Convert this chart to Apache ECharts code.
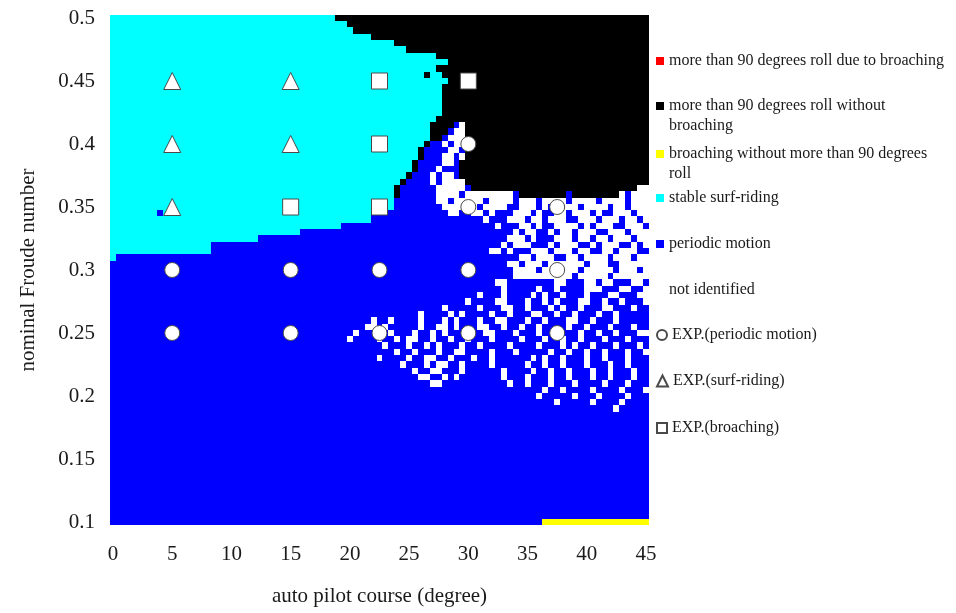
<!DOCTYPE html>
<html>
<head>
<meta charset="utf-8">
<script src="https://cdn.jsdelivr.net/npm/echarts@6/dist/echarts.min.js"></script>
<style>
html,body{margin:0;padding:0;background:#fff;}
#chart{width:956px;height:613px;}
</style>
</head>
<body>
<div id="chart"></div>
<script>
// ---------------- DATA ----------------
// Class codes: b = periodic motion, c = stable surf-riding, k = >90 deg roll without broaching,
// y = broaching without >90 deg roll, w = not identified
const classNames = {
  r: 'more than 90 degrees roll due to broaching',
  k: 'more than 90 degrees roll without broaching',
  y: 'broaching without more than 90 degrees roll',
  c: 'stable surf-riding',
  b: 'periodic motion',
  w: 'not identified'
};
const classColors = { r: '#FF0000', k: '#000000', y: '#FFFF00', c: '#00FFFF', b: '#0000FF', w: '#FFFFFF' };

// Froude number of each map row (top to bottom)
const froudeRows = [0.5,0.495,0.49,0.485,0.48,0.475,0.47,0.465,0.46,0.455,0.45,0.445,0.44,0.435,0.43,0.425,0.42,0.415,0.41,0.405,
  0.4,0.395,0.39,0.385,0.38,0.375,0.37,0.365,0.36,0.355,0.35,0.345,0.34,0.335,0.33,0.325,0.32,0.315,0.31,0.305,
  0.3,0.295,0.29,0.285,0.28,0.275,0.27,0.265,0.26,0.255,0.25,0.245,0.24,0.235,0.23,0.225,0.22,0.215,0.21,0.205,
  0.2,0.195,0.19,0.185,0.18,0.175,0.17,0.165,0.16,0.155,0.15,0.145,0.14,0.135,0.13,0.125,0.12,0.115,0.11,0.105,0.1];

// Run-length encoded map rows (course 0..45 deg in 0.5 deg cells, 91 cells per row), same order as froudeRows
const mapRows = [
  "c38k53","c40k51","c41k50","c44k47","c48k43","c50k41","c55k36","c57k34","c55k36","c53k1c2k35",
  "c57k34","c56k35","c56k35","c56k35","c56k35","c56k35","c55k36","c54k4b1w1k31","c54k3b1w2k31","c54k2b1w3k31",
  "c53k1b2w1b1w2k31","c52k1b4w2b1k31","c52k1b3w2b1w1k31","c51k1b4w2b1k32","c51k1b3w1b3k32","c50k1b3w1b1w2b1k32",
  "c49k1b4w1b1w4k31","c48k1b6w5b1k28w2","c48k1b6w4b1w8b1k8b1k8w1b1w3","c48b7w2b1w5b1w4b1w3b1w4b1w4b1w4b1w3",
  "c48b8w6b1w4b2w3b1w1b1w4b1w4b1w2b1w3",
  "c8b1c35b13w2b2w2b1w1b3w3b1w1b2w2b1w3b1w1b2w3b1w2",
  "c44b19w1b3w3b1w2b1w3b2w3b1w3b1w2b1w1",
  "c39b26w1b3w2b1w1b2w4b1w1b1w3b2w3b1",
  "c32b36w1b1w2b2w1b1w2b1w3b2w3b1w3",
  "c25b42w3b1w1b3w3b1w2b1w2b1w3b1w2",
  "c17b49w1b1w3b3w1b1w3b2w1b1w3b2w1b1w1",
  "c17b47w2b1w1b3w3b1w3b1w2b2w2b1w3b2",
  "c1b68w2b1w3b2w2b1w4b1w3b1w2",
  "b67w2b1w3b1w6b1w3b2w5",
  "b68w4b1w6b1w5b1w3b1w1",
  "b68w10b1w5b1w6",
  "b65w2b8w2b3w2b1w2b3w2b1",
  "b66w1b5w1b2w1b4w3b3w2b2w1",
  "b62w1b3w1b4w1b1w1b2w1b3w1b3w2b3w2",
  "b60w1b4w2b3w1b2w1b1w1b3w2b2w1b2w1b3w1",
  "b56w1b5w1b3w2b2w1b3w1b1w1b2w1b3w2b3w1b2",
  "b52w1b4w1b1w1b4w1b2w1b3w2b2w1b2w1b3w1b2w1b5",
  "b44w1b2w1b4w1b3w1b1w1b3w1b2w2b3w1b2w1b3w2b2w1b3w1b5",
  "b43w2b1w1b5w1b2w2b1w1b3w2b2w1b2w1b2w1b4w1b2w1b3w1b3w1b2",
  "b41w1b3w1b1w1b3w1b2w1b1w1b3w1b2w2b3w1b3w1b2w1b3w1b2w1b2w1b3",
  "b40w1b4w1b2w1b1w2b2w1b2w1b2w1b3w1b4w1b3w1b2w1b2w1b3w1b3w1b3",
  "b46w1b3w1b2w1b1w1b3w1b2w1b4w1b4w1b3w1b1w1b2w1b3w1b3w1b1",
  "b48w1b2w1b3w1b2w2b4w1b3w1b5w1b2w1b2w1b2w1b3w1b2",
  "b45w1b4w1b2w2b2w1b3w1b2w1b6w1b1w1b2w1b3w1b2w1b3w1b3",
  "b49w1b3w1b1w2b2w1b4w1b5w1b2w1b2w1b3w1b3w1b2w1b3",
  "b51w1b2w2b3w1b6w1b4w1b2w1b2w1b3w1b2w1b3w1b2",
  "b52w2b2w1b1w1b7w1b3w1b3w1b2w1b3w1b2w1b3w1b2",
  "b54w2b11w1b2w1b3w1b3w1b4w1b3w1b3",
  "b73w1b2w1b4w1b4w1b3w1",
  "b72w1b5w1b3w1b4w1b3",
  "b75w1b5w1b4w1b4",
  "b85w1b5",
  "b91","b91","b91","b91","b91","b91","b91","b91","b91","b91","b91","b91","b91","b91","b91","b91","b91",
  "b73y18"
];
const cellWidthDeg = 0.5;      // course width of one map cell
const cellHeightFn = 0.005;    // Froude height of one map cell

// Experimental results
const expPeriodic = [[5,0.3],[15,0.3],[22.5,0.3],[30,0.3],[37.5,0.3],[5,0.25],[15,0.25],[22.5,0.25],[30,0.25],[37.5,0.25],[30,0.35],[37.5,0.35],[30,0.4]];
const expSurf = [[5,0.45],[15,0.45],[5,0.4],[15,0.4],[5,0.35]];
const expBroach = [[22.5,0.45],[30,0.45],[22.5,0.4],[15,0.35],[22.5,0.35]];

const xTicks = { min: 0, max: 45, interval: 5 };
const yTicks = { min: 0.1, max: 0.5, interval: 0.05 };

// ---------------- BUILD ----------------
const cellData = { r: [], k: [], y: [], c: [], b: [], w: [] };
mapRows.forEach((str, i) => {
  const fn = froudeRows[i];
  const re = /([a-z])(\d+)/g;
  let m, col = 0;
  while ((m = re.exec(str))) {
    const n = +m[2];
    cellData[m[1]].push([col * cellWidthDeg, (col + n - 1) * cellWidthDeg, fn]);
    col += n;
  }
  if (col !== 91) console.warn('row', i, 'has', col, 'cells');
});

function renderCell(params, api) {
  const x0 = api.value(0), x1 = api.value(1), f = api.value(2);
  const p0 = api.coord([x0 - cellWidthDeg / 2, f + cellHeightFn / 2]);
  const p1 = api.coord([x1 + cellWidthDeg / 2, f - cellHeightFn / 2]);
  const xa = Math.round(p0[0]), ya = Math.round(p0[1]);
  const xb = Math.round(p1[0]), yb = Math.round(p1[1]);
  return {
    type: 'rect',
    shape: { x: xa, y: ya, width: xb - xa, height: yb - ya },
    style: { fill: api.visual('color'), stroke: null }
  };
}

const order = ['r', 'k', 'y', 'c', 'b', 'w'];
const series = order.map(code => ({
  name: classNames[code],
  type: 'custom',
  renderItem: renderCell,
  encode: { x: [0, 1], y: 2 },
  clip: false,
  silent: true,
  itemStyle: { color: classColors[code], opacity: 1 },
  data: cellData[code],
  z: 1
}));

const markerStyle = { color: '#FFFFFF', borderColor: '#4a4a4a', borderWidth: 1, opacity: 1 };
series.push(
  { name: 'EXP.(periodic motion)', type: 'scatter', symbol: 'circle', symbolSize: 15, itemStyle: markerStyle, data: expPeriodic, z: 5, silent: true },
  { name: 'EXP.(surf-riding)', type: 'scatter', symbol: 'triangle', symbolSize: 17, itemStyle: markerStyle, data: expSurf, z: 5, silent: true },
  { name: 'EXP.(broaching)', type: 'scatter', symbol: 'rect', symbolSize: 16, itemStyle: markerStyle, data: expBroach, z: 5, silent: true }
);

// legend text; two-line entries get a blank leading line so the icon sits on the first line
const wrapNames = {
  'more than 90 degrees roll without broaching': ' \nmore than 90 degrees roll without\nbroaching',
  'broaching without more than 90 degrees roll': ' \nbroaching without more than 90 degrees\nroll'
};
const legendItems = [
  { name: classNames.r, y: 61, lines: 1, icon: 'rect', size: 8 },
  { name: classNames.k, y: 106, lines: 3, icon: 'rect', size: 8 },
  { name: classNames.y, y: 154, lines: 3, icon: 'rect', size: 8 },
  { name: classNames.c, y: 198, lines: 1, icon: 'rect', size: 8 },
  { name: classNames.b, y: 244, lines: 1, icon: 'rect', size: 8 },
  { name: classNames.w, y: 290, lines: 1, icon: 'rect', size: 8 },
  { name: 'EXP.(periodic motion)', y: 335, lines: 1, icon: 'circle', size: 10 },
  { name: 'EXP.(surf-riding)', y: 381, lines: 1, icon: 'triangle', size: 11 },
  { name: 'EXP.(broaching)', y: 428, lines: 1, icon: 'rect', size: 10 }
];
const legends = legendItems.map(it => ({
  data: [{ name: it.name, icon: it.icon }],
  left: 656,
  top: it.y - it.lines * 10,
  padding: 0,
  itemWidth: it.size,
  itemHeight: it.size,
  itemGap: 0,
  selectedMode: false,
  formatter: n => wrapNames[n] || n,
  textStyle: { fontFamily: 'Liberation Serif', fontSize: 16, lineHeight: 20, color: '#1a1a1a' }
}));

const option = {
  animation: false,
  backgroundColor: '#ffffff',
  textStyle: { fontFamily: 'Liberation Serif' },
  grid: { left: 113, right: 310, top: 18, bottom: 91, containLabel: false },
  legend: legends,
  xAxis: {
    type: 'value', min: xTicks.min, max: xTicks.max, interval: xTicks.interval,
    axisLine: { show: false }, axisTick: { show: false }, splitLine: { show: false },
    axisLabel: { fontFamily: 'Liberation Serif', fontSize: 21, color: '#1a1a1a', margin: 22 },
    name: 'auto pilot course (degree)', nameLocation: 'middle', nameGap: 64,
    nameTextStyle: { fontFamily: 'Liberation Serif', fontSize: 21, color: '#1a1a1a' }
  },
  yAxis: {
    type: 'value', min: yTicks.min, max: yTicks.max, interval: yTicks.interval,
    axisLine: { show: false }, axisTick: { show: false }, splitLine: { show: false },
    axisLabel: { fontFamily: 'Liberation Serif', fontSize: 21, color: '#1a1a1a', margin: 18,
      formatter: v => String(+v.toFixed(3)) },
    name: 'nominal Froude number', nameLocation: 'middle', nameGap: 74,
    nameTextStyle: { fontFamily: 'Liberation Serif', fontSize: 21, color: '#1a1a1a' }
  },
  series: series
};

const chart = echarts.init(document.getElementById('chart'), null, { renderer: 'canvas' });
chart.setOption(option);
</script>
</body>
</html>
